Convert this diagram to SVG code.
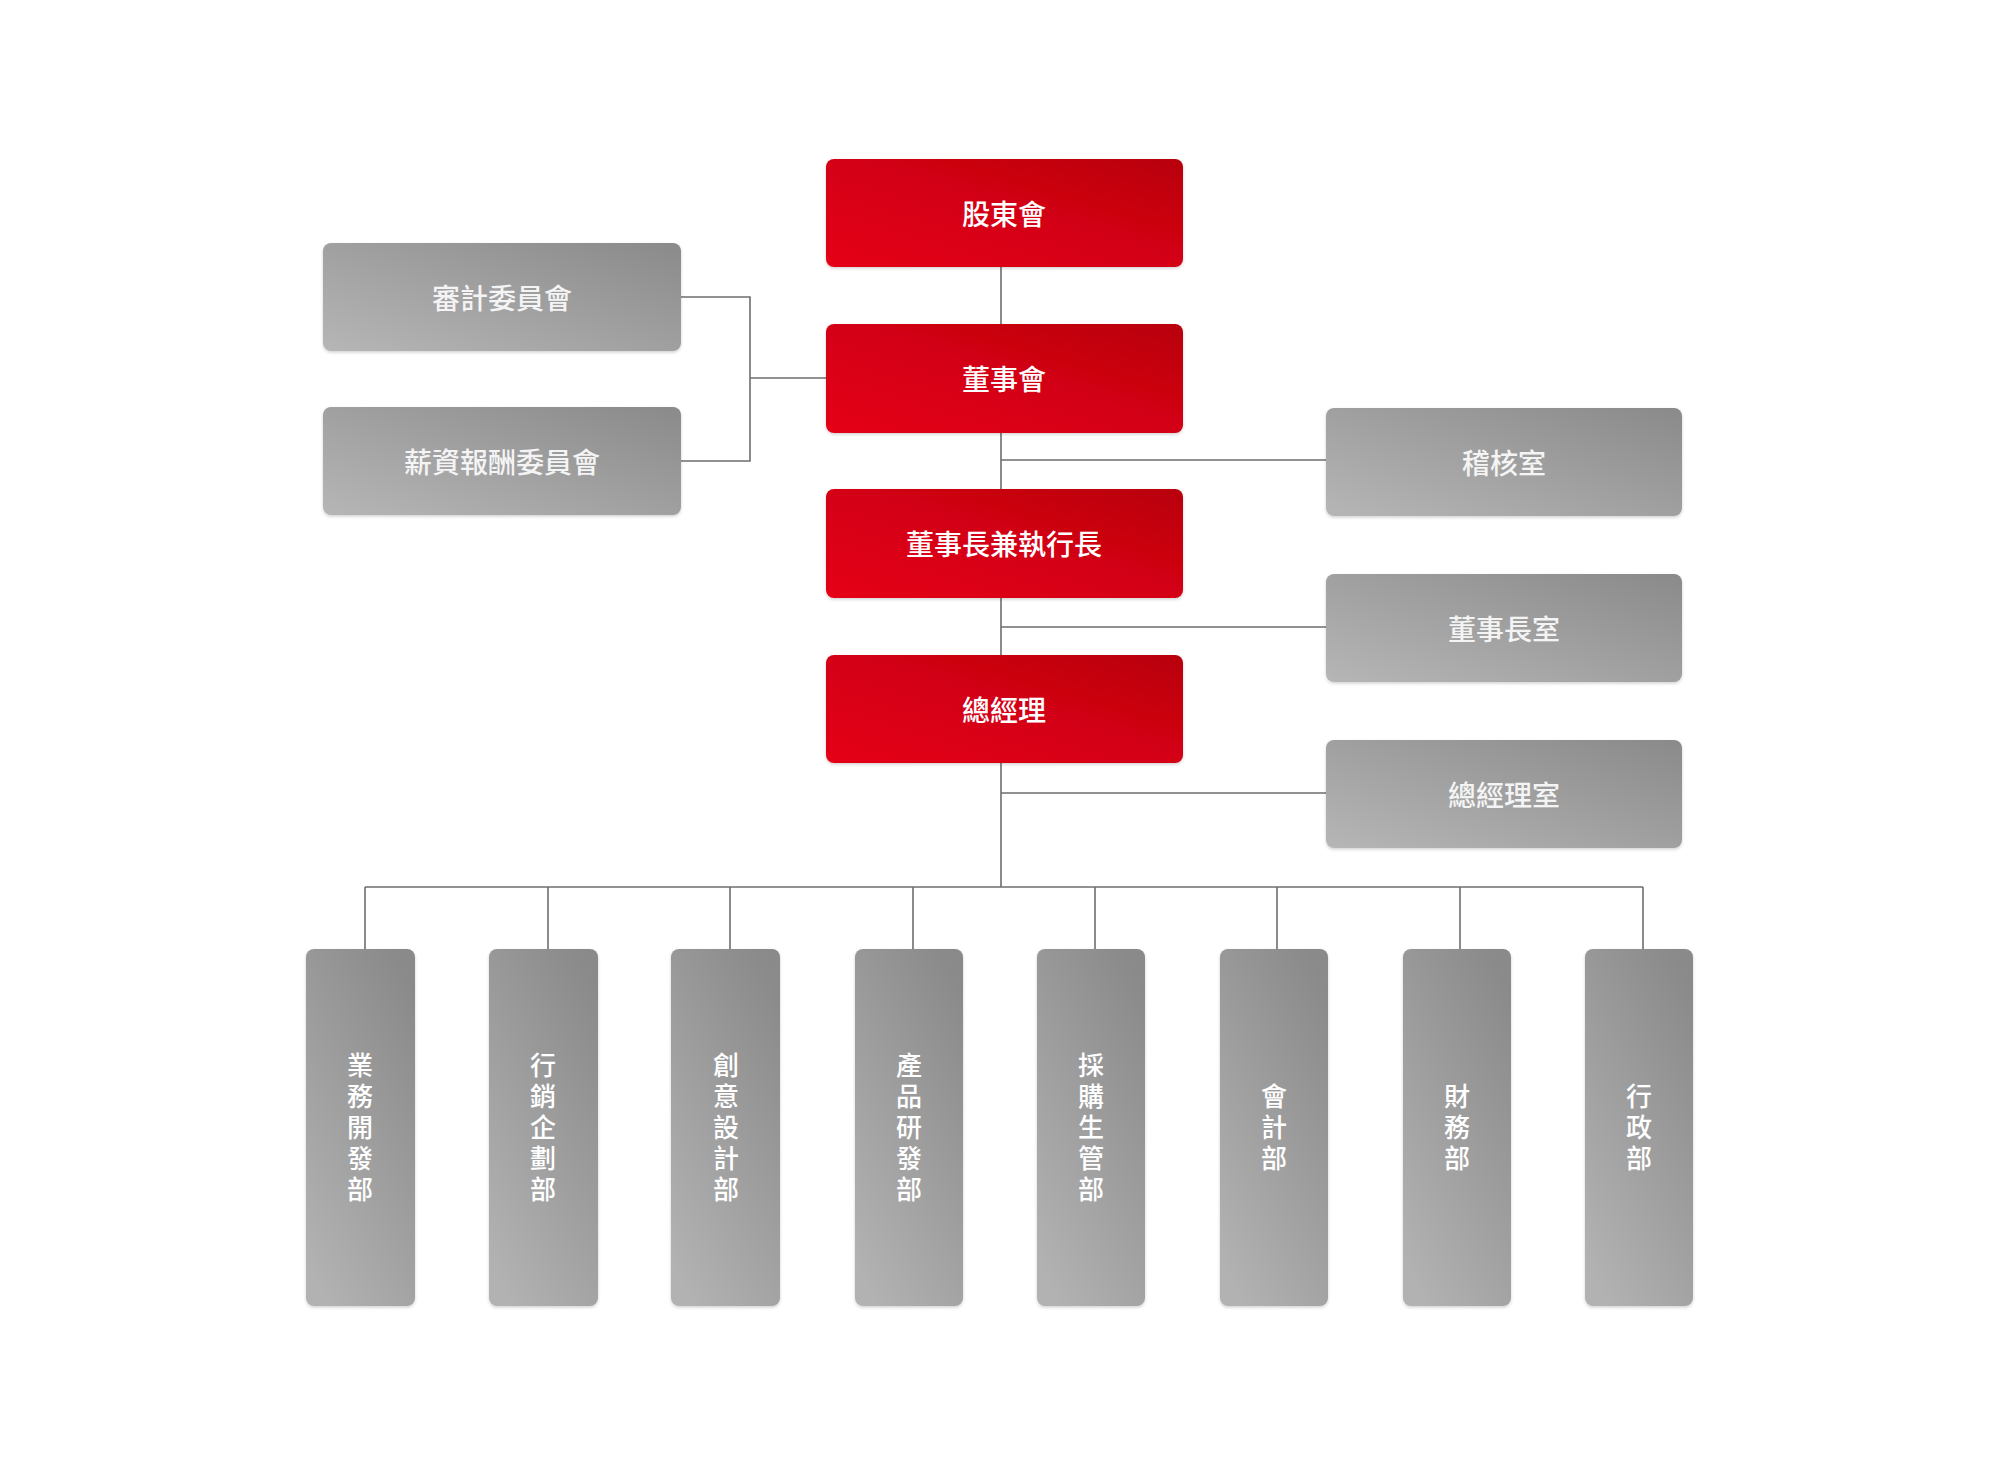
<svg xmlns="http://www.w3.org/2000/svg" width="2000" height="1465" viewBox="0 0 2000 1465">
<defs>
<linearGradient id="gRed" x1="0" y1="1" x2="1" y2="0">
<stop offset="0" stop-color="#e50015"/>
<stop offset="0.55" stop-color="#d20012"/>
<stop offset="1" stop-color="#b8000e"/>
</linearGradient>
<linearGradient id="gGray" x1="0" y1="1" x2="1" y2="0">
<stop offset="0" stop-color="#b6b6b7"/>
<stop offset="1" stop-color="#8a8a8b"/>
</linearGradient>
<linearGradient id="gGrayV" x1="0.2" y1="1" x2="0.8" y2="0">
<stop offset="0" stop-color="#b2b2b3"/>
<stop offset="1" stop-color="#8a8a8b"/>
</linearGradient>
<filter id="sh" x="-10%" y="-10%" width="120%" height="130%">
<feDropShadow dx="0" dy="1.5" stdDeviation="1.5" flood-color="#000" flood-opacity="0.18"/>
</filter>
</defs>
<style>
.red{fill:url(#gRed);filter:url(#sh)}
.gray{fill:url(#gGray);filter:url(#sh)}
.grayv{fill:url(#gGrayV);filter:url(#sh)}
.t{font-family:"Noto Sans CJK TC","Noto Sans CJK SC",sans-serif;font-size:28px;font-weight:500;fill:#ffffff;text-anchor:middle;dominant-baseline:central}
.tg{fill:#f4f4f4}
.tv{font-family:"Noto Sans CJK TC","Noto Sans CJK SC",sans-serif;font-size:26px;font-weight:500;fill:#ffffff;text-anchor:middle;writing-mode:vertical-rl;letter-spacing:5px}
.c{stroke:#6e6e6e;stroke-width:1.6;fill:none}
</style>
<rect width="2000" height="1465" fill="#ffffff"/>
<g id="connectors">
<path class="c" d="M1001 267V324M1001 433V489M1001 598V655M1001 763V887"/>
<path class="c" d="M1001 460H1326M1001 627H1326M1001 793H1326"/>
<path class="c" d="M681 297H750V461H681M750 378H826"/>
<path class="c" d="M365 887H1643"/>
<path class="c" d="M365 887V949M548 887V949M730 887V949M913 887V949M1095 887V949M1277 887V949M1460 887V949M1643 887V949"/>
</g>
<g id="n-shareholders"><rect class="red" x="826" y="159" width="357" height="108" rx="8"/><text class="t" x="1004" y="213">股東會</text></g>
<g id="n-board"><rect class="red" x="826" y="324" width="357" height="109" rx="8"/><text class="t" x="1004" y="378">董事會</text></g>
<g id="n-chairman-ceo"><rect class="red" x="826" y="489" width="357" height="109" rx="8"/><text class="t" x="1004" y="543">董事長兼執行長</text></g>
<g id="n-gm"><rect class="red" x="826" y="655" width="357" height="108" rx="8"/><text class="t" x="1004" y="709">總經理</text></g>
<g id="n-audit-committee"><rect class="gray" x="323" y="243" width="358" height="108" rx="8"/><text class="t tg" x="502" y="297">審計委員會</text></g>
<g id="n-comp-committee"><rect class="gray" x="323" y="407" width="358" height="108" rx="8"/><text class="t tg" x="502" y="461">薪資報酬委員會</text></g>
<g id="n-audit-office"><rect class="gray" x="1326" y="408" width="356" height="108" rx="8"/><text class="t tg" x="1504" y="462">稽核室</text></g>
<g id="n-chairman-office"><rect class="gray" x="1326" y="574" width="356" height="108" rx="8"/><text class="t tg" x="1504" y="628">董事長室</text></g>
<g id="n-gm-office"><rect class="gray" x="1326" y="740" width="356" height="108" rx="8"/><text class="t tg" x="1504" y="794">總經理室</text></g>
<g id="n-d1"><rect class="grayv" x="306" y="949" width="109" height="357" rx="8"/><text class="tv" x="360" y="1130">業務開發部</text></g>
<g id="n-d2"><rect class="grayv" x="489" y="949" width="109" height="357" rx="8"/><text class="tv" x="543" y="1130">行銷企劃部</text></g>
<g id="n-d3"><rect class="grayv" x="671" y="949" width="109" height="357" rx="8"/><text class="tv" x="726" y="1130">創意設計部</text></g>
<g id="n-d4"><rect class="grayv" x="855" y="949" width="108" height="357" rx="8"/><text class="tv" x="909" y="1130">產品研發部</text></g>
<g id="n-d5"><rect class="grayv" x="1037" y="949" width="108" height="357" rx="8"/><text class="tv" x="1091" y="1130">採購生管部</text></g>
<g id="n-d6"><rect class="grayv" x="1220" y="949" width="108" height="357" rx="8"/><text class="tv" x="1274" y="1130">會計部</text></g>
<g id="n-d7"><rect class="grayv" x="1403" y="949" width="108" height="357" rx="8"/><text class="tv" x="1457" y="1130">財務部</text></g>
<g id="n-d8"><rect class="grayv" x="1585" y="949" width="108" height="357" rx="8"/><text class="tv" x="1639" y="1130">行政部</text></g>
</svg>
